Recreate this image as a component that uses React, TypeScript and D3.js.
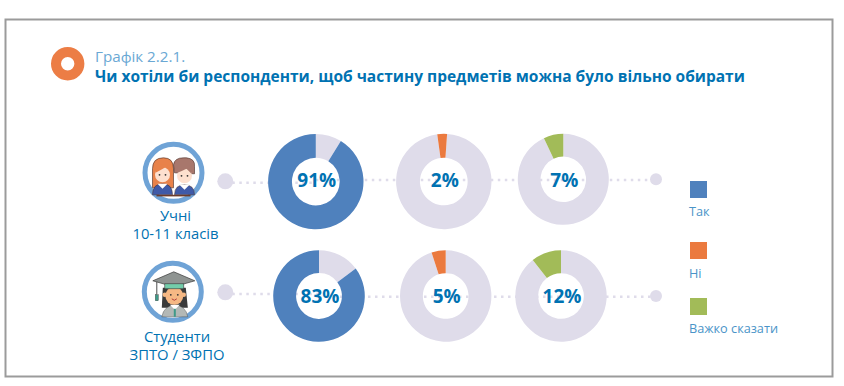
import React from "react";
import * as d3 from "d3";

const groups = ["Учні", "Студенти"];
const groupSub = ["10-11 класів", "ЗПТО / ЗФПО"];
const takLabels = [91, 83];
const niLabels = [2, 5];
const vazhkoLabels = [7, 12];
// slice shares as actually drawn in the picture (they differ a little from the printed labels)
const takDrawn = [91.2, 85.2];
const niDrawn = [3.3, 5];
const vazhkoDrawn = [7, 10.6];
const legendLabels = ["Так", "Ні", "Важко сказати"];
const colors = ["#4f81bd", "#eb7a3f", "#a2bb58"];
const rest = "#dfdcea";
const blue = "#0072b2";
const font = "'Open Sans', sans-serif";

const TAU = Math.PI * 2;
const share = d3.scaleLinear().domain([0, 100]).range([0, TAU]);

const centersX = [[315.8, 443.8, 563.3], [319, 445.7, 561]];
const centersY = [[181.6, 181.5, 179.3], [296, 296, 296]];
const radii = [[47.7, 47.7, 45.5], [45.8, 45.7, 45.7]];
const textBase = [186.7, 302.7];
const leftY = [182.7, 294];
const rightY = [180, 296.7];
const startDot = [181.3, 292.3];
const endDot = [179.3, 296];

function Donut({ cx, cy, r, drawn, label, color, textY, rotate = 0 }: any) {
  const arc = d3.arc<any>().innerRadius(r * 0.5).outerRadius(r);
  const end = rotate;
  const start = rotate - share(drawn);
  const slice = arc({ startAngle: start, endAngle: end });
  const remainder = arc({ startAngle: end, endAngle: start + TAU });
  return (
    <g>
      <path transform={`translate(${cx},${cy})`} d={remainder as string} fill={rest} />
      <path transform={`translate(${cx},${cy})`} d={slice as string} fill={color} />
      <text x={cx + 1} y={textY} textAnchor="middle" fontFamily={font} fontWeight={700} fontSize={19} fill={blue}>
        {label}%
      </text>
    </g>
  );
}

function Pupils({ cx, cy }: { cx: number; cy: number }) {
  const ol = "#4a2c25";
  return (
    <g transform={`translate(${cx},${cy})`}>
      <circle r={28.5} fill="#fff" stroke="#6fa3d6" strokeWidth={5} />
      <path d="M-21,15 L-21,-4 Q-21,-15 -10,-15 Q0,-15 0,-4 L0,15 Z" fill="#e8824a" stroke={ol} strokeWidth={0.6} />
      <path d="M1,0 L0,-8 Q1,-15 10,-15 L13,-15 Q22,-14 21,-6 L21,1 Z" fill="#a8776c" stroke={ol} strokeWidth={0.6} />
      <circle cx={-11} cy={2} r={7.5} fill="#fde0cf" />
      <circle cx={11} cy={3} r={7.5} fill="#fde0cf" />
      <path d="M-18,0 Q-10,-4 -6,-7 Q-4,-4 -3,0 L-3,-8 L-18,-8 Z" fill="#e8824a" />
      <path d="M4,0 Q9,-2 13,-4 Q16,-1 18,1 L18,-7 L4,-7 Z" fill="#a8776c" />
      <path d="M-21,22 Q-21,11 -11,11 Q-1,11 -1,22 Z" fill="#3f5aa8" stroke={ol} strokeWidth={0.5} />
      <path d="M1,22 Q1,12 11,12 Q21,12 21,22 Z" fill="#3f5aa8" stroke={ol} strokeWidth={0.5} />
      <path d="M-16,11 L-11,16 L-6,11Z M6,12 L11,17 L16,12Z" fill="#fff" />
      <rect x={-17} y={22} width={34} height={1.6} fill="#6b3b2a" />
      <circle cx={-14} cy={2} r={0.9} fill="#333" />
      <circle cx={-8} cy={2} r={0.9} fill="#333" />
      <circle cx={8} cy={3} r={0.9} fill="#333" />
      <circle cx={14} cy={3} r={0.9} fill="#333" />
    </g>
  );
}

function Graduate({ cx, cy }: { cx: number; cy: number }) {
  const ol = "#3a3a3a";
  return (
    <g transform={`translate(${cx},${cy})`}>
      <circle r={28.5} fill="#fff" stroke="#6fa3d6" strokeWidth={5} />
      <path d="M-10,-4 L-11,16 L15,16 L13,-4 Z" fill="#3a3a3a" />
      <path d="M-11,25 Q-9,14 2,13 Q13,14 15,25 Z" fill="#b3b8b6" stroke={ol} strokeWidth={0.4} />
      <path d="M-3,13 L2,18 L7,13 Z" fill="#fff" />
      <rect x={1} y={17} width={2} height={8} fill="#3f9a88" />
      <circle cx={1.5} cy={4} r={9} fill="#f5b884" />
      <circle cx={-8} cy={3} r={2.2} fill="#f5b884" />
      <circle cx={11} cy={3} r={2.2} fill="#f5b884" />
      <circle cx={-2} cy={3} r={0.9} fill="#333" />
      <circle cx={5} cy={3} r={0.9} fill="#333" />
      <path d="M-1,7 Q1.5,10 4,7" fill="none" stroke="#a33" strokeWidth={0.9} />
      <path d="M-20,-11 L1,-20 L22,-11 L1,-5 Z" fill="#8f9492" stroke={ol} strokeWidth={0.7} />
      <rect x={-8} y={-8} width={19} height={5} fill="#73cdaa" stroke={ol} strokeWidth={0.6} />
      <path d="M-16,-10 L-16,3" stroke={ol} strokeWidth={0.9} />
      <rect x={-17.5} y={3} width={3} height={6} fill="#3f9a88" stroke={ol} strokeWidth={0.4} />
    </g>
  );
}

export default function App() {
  const iconX = [173.5, 172.8];
  const iconY = [172.8, 291.8];
  const dotX = 225.3;
  const endX = 656;
  const legendX = 690;
  const legendY = [181, 242, 298];
  const legendBase = [216, 277.7, 333.3];
  const labelX = [175.5, 177];
  const labelY = [221, 342];
  const labelGap = 17.5;
  return (
    <svg width={844} height={386} style={{ position: "absolute", left: 0, top: 0, background: "#fff" }}>
      <rect x={5.5} y={19.5} width={827} height={357} fill="#fff" stroke="#9b9b9b" strokeWidth={2} />
      <circle cx={67.7} cy={63.7} r={11.7} fill="none" stroke="#ec7d45" strokeWidth={10} />
      <text x={95} y={62.3} fontFamily={font} fontSize={15.2} fill="#6aa8d4">Графік 2.2.1.</text>
      <text x={95} y={81.5} fontFamily={font} fontWeight={700} fontSize={15.5} fill={blue}>
        Чи хотіли би респонденти, щоб частину предметів можна було вільно обирати
      </text>

      {groups.map((g, i) => {
        const cxs = centersX[i];
        const cys = centersY[i];
        const rs = radii[i];
        return (
          <g key={g}>
            <line x1={dotX} x2={cxs[0]} y1={leftY[i]} y2={leftY[i]} stroke={rest} strokeWidth={2.5} strokeDasharray="2.5 4.5" />
            <line x1={cxs[0]} x2={endX} y1={rightY[i]} y2={rightY[i]} stroke={rest} strokeWidth={2.5} strokeDasharray="2.5 4.5" />
            <circle cx={dotX} cy={startDot[i]} r={8} fill={rest} />
            <circle cx={endX} cy={endDot[i]} r={6} fill={rest} />
            {i === 0 ? <Pupils cx={iconX[i]} cy={iconY[i]} /> : <Graduate cx={iconX[i]} cy={iconY[i]} />}
            <Donut cx={cxs[0]} cy={cys[0]} r={rs[0]} drawn={takDrawn[i]} label={takLabels[i]} color={colors[0]} textY={textBase[i]} />
            <Donut cx={cxs[1]} cy={cys[1]} r={rs[1]} drawn={niDrawn[i]} label={niLabels[i]} color={colors[1]} textY={textBase[i]} rotate={i === 0 ? share(1.1) : 0} />
            <Donut cx={cxs[2]} cy={cys[2]} r={rs[2]} drawn={vazhkoDrawn[i]} label={vazhkoLabels[i]} color={colors[2]} textY={textBase[i]} />
            <text y={labelY[i]} textAnchor="middle" fontFamily={font} fontSize={14.8} fill={blue}>
              <tspan x={labelX[i]}>{g}</tspan>
              <tspan x={labelX[i]} dy={labelGap}>{groupSub[i]}</tspan>
            </text>
          </g>
        );
      })}

      {legendLabels.map((l, i) => (
        <g key={l}>
          <rect x={legendX} y={legendY[i]} width={17} height={17} fill={colors[i]} />
          <text x={legendX - 1} y={legendBase[i]} fontFamily={font} fontSize={12.7} fill="#4a94c8">{l}</text>
        </g>
      ))}
    </svg>
  );
}
